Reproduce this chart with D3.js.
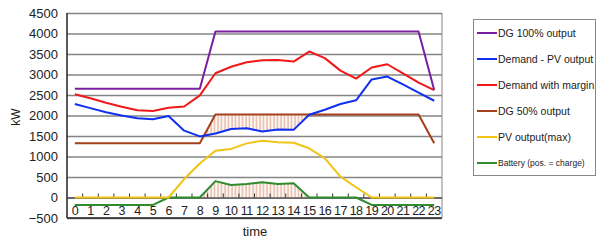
<!DOCTYPE html>
<html>
<head>
<meta charset="utf-8">
<script src="https://cdnjs.cloudflare.com/ajax/libs/d3/7.8.5/d3.min.js"></script>
<style>
  body { margin: 0; background: #fff; }
  text { font-family: "Liberation Sans", Arial, sans-serif; }
</style>
</head>
<body>
<div id="chart"></div>
<script>
// data (kW by hour)
const hours = d3.range(0, 24);
const dg100 = [2650,2650,2650,2650,2650,2650,2650,2650,2650,4050,4050,4050,4050,4050,4050,4050,4050,4050,4050,4050,4050,4050,4050,2620];
const demandPv = [2280,2180,2080,2000,1935,1910,1990,1630,1490,1560,1670,1690,1610,1660,1650,2020,2140,2280,2370,2880,2950,2760,2560,2360];
const demandMargin = [2520,2420,2310,2215,2130,2110,2190,2220,2490,3030,3190,3300,3345,3355,3315,3560,3400,3095,2900,3170,3250,3030,2800,2620];
const dg50 = [1325,1325,1325,1325,1325,1325,1325,1325,1325,2025,2025,2025,2025,2025,2025,2025,2025,2025,2025,2025,2025,2025,2025,1325];
const pvMax = [0,0,0,0,0,0,0,450,830,1140,1185,1320,1385,1345,1335,1200,955,510,250,0,0,0,0,0];
const battery = [-180,-180,-180,-180,-180,-180,0,0,0,400,305,330,370,330,345,0,0,0,0,-180,-180,-180,-180,-180];
const yTicks = d3.range(-500, 4501, 500);

const seriesNames = ["DG 100% output", "Demand - PV output", "Demand with margin", "DG 50% output", "PV output(max)", "Battery (pos. = charge)"];
const seriesValues = [dg100, demandPv, demandMargin, dg50, pvMax, battery];
const seriesColors = ["#7a1fa2", "#1030f0", "#f01818", "#a4401c", "#f0c414", "#2e8b2e"];

const width = 597, height = 240;
const svg = d3.select("#chart").append("svg")
  .attr("width", width).attr("height", height);

const pLeft = 67, pRight = 442, pTop = 13, pBottom = 218;
const x = d3.scaleBand().domain(hours).range([pLeft, pRight]).padding(0);
const y = d3.scaleLinear().domain([-500, 4500]).range([pBottom, pTop]);
const cx = h => x(h) + x.bandwidth() / 2;

// hatch pattern
const defs = svg.append("defs");
const pat = defs.append("pattern")
  .attr("id", "hatch").attr("patternUnits", "userSpaceOnUse")
  .attr("width", 3.5).attr("height", 6);
pat.append("rect").attr("width", 3.5).attr("height", 6).attr("fill", "#fdf6f2");
pat.append("line").attr("x1", 1).attr("x2", 1).attr("y1", 0).attr("y2", 6)
  .attr("stroke", "#d99a80").attr("stroke-width", 0.9);

// grid
svg.append("g")
  .attr("transform", `translate(${pLeft},0)`)
  .call(d3.axisLeft(y).tickValues(yTicks).tickSize(-(pRight - pLeft)).tickFormat(""))
  .call(g => g.select(".domain").remove())
  .call(g => g.selectAll("line").attr("stroke", "#858585").attr("stroke-width", 1.4));

// y labels
svg.append("g")
  .attr("transform", `translate(${pLeft},0)`)
  .call(d3.axisLeft(y).tickValues(yTicks).tickFormat(d3.format("d")).tickSize(0).tickPadding(9))
  .call(g => g.select(".domain").remove())
  .call(g => g.selectAll("text").attr("font-size", 13).attr("fill", "#222"));

// hatched areas
const hatchHours = d3.range(8, 16);
const clipBelowDg50 = d3.area().x(cx).y0(pBottom).y1(h => y(dg50[h]));
defs.append("clipPath").attr("id", "belowDg50")
  .append("path").attr("d", clipBelowDg50(hours));
svg.append("path")
  .attr("clip-path", "url(#belowDg50)")
  .attr("fill", "url(#hatch)")
  .attr("d", d3.area().x(cx).y0(h => y(demandPv[h])).y1(h => y(dg50[h]))(hatchHours));
svg.append("path")
  .attr("fill", "url(#hatch)")
  .attr("d", d3.area().x(cx).y0(y(0)).y1(h => y(battery[h]))(hatchHours));

// x axis at zero
svg.append("g")
  .attr("transform", `translate(0,${y(0)})`)
  .call(d3.axisBottom(x).tickSize(0).tickPadding(9))
  .call(g => g.select(".domain").attr("stroke", "#333").attr("stroke-width", 1.2))
  .call(g => g.selectAll("text").attr("font-size", 12.5).attr("letter-spacing", -0.6).attr("fill", "#222"));
svg.append("g").selectAll("line")
  .data(hours.slice(1))
  .join("line")
  .attr("x1", h => x(h)).attr("x2", h => x(h))
  .attr("y1", y(0)).attr("y2", y(0) - 4)
  .attr("stroke", "#333").attr("stroke-width", 1);

// frame
svg.append("line").attr("x1", pLeft).attr("x2", pLeft).attr("y1", pTop).attr("y2", pBottom)
  .attr("stroke", "#222").attr("stroke-width", 1.5);
svg.append("line").attr("x1", pLeft).attr("x2", pRight).attr("y1", pBottom).attr("y2", pBottom)
  .attr("stroke", "#222").attr("stroke-width", 1.5);
svg.append("line").attr("x1", pRight).attr("x2", pRight).attr("y1", pTop).attr("y2", pBottom)
  .attr("stroke", "#858585").attr("stroke-width", 1);

// lines
const line = d3.line().x((d, i) => cx(hours[i])).y(d => y(d));
svg.append("g").selectAll("path")
  .data(seriesValues.slice().reverse())
  .join("path")
  .attr("fill", "none")
  .attr("stroke", (d, i) => seriesColors[seriesColors.length - 1 - i])
  .attr("stroke-width", 2)
  .attr("stroke-linejoin", "round")
  .attr("d", line);

// axis titles
svg.append("text")
  .attr("transform", `translate(20,117) rotate(-90)`)
  .attr("text-anchor", "middle").attr("font-size", 12).attr("fill", "#222")
  .text("kW");
svg.append("text")
  .attr("x", 255).attr("y", 236)
  .attr("text-anchor", "middle").attr("font-size", 13).attr("fill", "#222")
  .text("time");

// legend
const lg = svg.append("g");
lg.append("rect")
  .attr("x", 473.5).attr("y", 19.5).attr("width", 122).attr("height", 156)
  .attr("fill", "#fff").attr("stroke", "#888");
const item = lg.selectAll("g.item")
  .data(seriesNames)
  .join("g").attr("class", "item")
  .attr("transform", (d, i) => `translate(477,${33 + i * 26})`);
item.append("line")
  .attr("x1", 0).attr("x2", 20)
  .attr("stroke", (d, i) => seriesColors[i]).attr("stroke-width", 2);
item.append("text")
  .attr("x", 21).attr("dy", "0.35em")
  .attr("font-size", (d, i) => i === 5 ? 8.5 : 10.5)
  .attr("fill", "#222")
  .text(d => d);
</script>
</body>
</html>
